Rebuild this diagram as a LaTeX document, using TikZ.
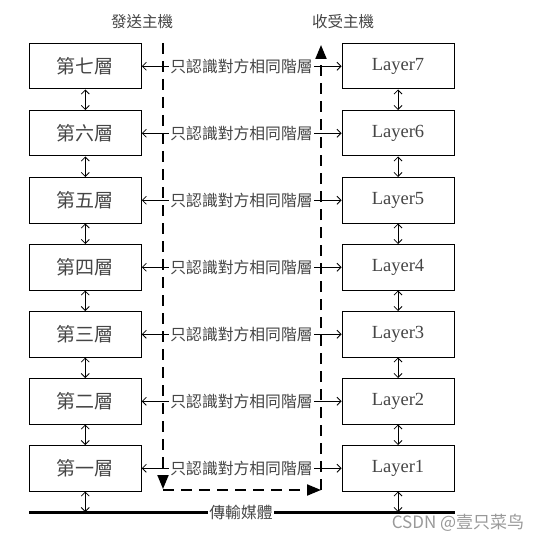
\documentclass[tikz,border=0pt]{standalone}
\usepackage{fontspec}
\setmainfont{Liberation Serif}
\newfontfamily\cjktc{Noto Sans CJK TC}
\newfontfamily\cjkwm{Noto Sans CJK SC}
\usetikzlibrary{arrows.meta}
\definecolor{txt}{HTML}{454545}
\tikzset{
  layerbox/.style={draw, line width=1pt, minimum width=112pt, minimum height=45.5pt, inner sep=0pt, text=txt},
  cjkbox/.style={layerbox, font=\cjktc\fontsize{19pt}{19pt}\selectfont},
  engbox/.style={layerbox, font=\fontsize{18.5pt}{18.5pt}\selectfont},
  varrow/.style={line width=0.8pt, {Straight Barb[length=4pt,width=8pt]}-{Straight Barb[length=4pt,width=8pt]}},
  harrow/.style={line width=0.8pt, {Straight Barb[length=4pt,width=8pt]}-{Straight Barb[length=4pt,width=8pt]}},
  peerlabel/.style={fill=white, inner sep=1pt, text=txt, font=\cjktc\fontsize{15.8pt}{15.8pt}\selectfont},
  header/.style={text=txt, inner sep=0pt, font=\cjktc\fontsize{15.5pt}{15.5pt}\selectfont},
  dashpath/.style={line width=2pt, dash pattern=on 11pt off 7pt, -{Triangle[length=14pt,width=11pt]}},
  medium/.style={line width=3pt},
  watermark/.style={text=black!40, inner sep=0pt, font=\cjkwm\fontsize{17pt}{17pt}\selectfont}
}
\begin{document}
\begin{tikzpicture}[x=1pt,y=-1pt]
\useasboundingbox[fill=white] (0,0) rectangle (539,540);
% boxes
\foreach \n/\t [count=\i from 0] in {7/七,6/六,5/五,4/四,3/三,2/二,1/一}{
  \node[cjkbox] (L\n) at (85.25,66.25+67*\i) {第\t 層};
  \node[engbox] (R\n) at (398,66.25+67*\i) {Layer\n};
}
% vertical arrows between layers
\foreach \a/\b in {7/6,6/5,5/4,4/3,3/2,2/1}{
  \draw[varrow] (L\a.south) -- (L\b.north);
  \draw[varrow] (R\a.south) -- (R\b.north);
}
% medium
\coordinate (ml) at (29,512);
\coordinate (mr) at (455,512);
\draw[medium] (ml) -- (mr);
\node[peerlabel] (med) at (241,512) {傳輸媒體};
\draw[varrow] (L1.south) -- (L1.south |- ml);
\draw[varrow] (R1.south) -- (R1.south |- ml);
% peer arrows
\foreach \n in {7,6,5,4,3,2,1}{
  \draw[harrow] (L\n.east) -- (R\n.west);
}
% dashed data path
\coordinate (dTL) at (163,43);
\coordinate (dBL) at (163,489);
\coordinate (hS) at (163,490);
\coordinate (hE) at (321,490);
\coordinate (dTR) at (321,45);
\draw[dashpath] (dTL) -- (dBL);
\draw[dashpath] (hS) -- (hE);
\draw[dashpath] (hE) -- (dTR);
% peer labels on top
\foreach \n [count=\i from 0] in {7,6,5,4,3,2,1}{
  \node[peerlabel] (P\n) at (241.5,66.25+67*\i) {只認識對方相同階層};
}
% headers
\node[header] (hs) at (142,22) {發送主機};
\node[header] (hr) at (343,22) {收受主機};
% watermark
\node[watermark] (wm) at (458,523) {CSDN @壹只菜鸟};
\end{tikzpicture}
\end{document}
